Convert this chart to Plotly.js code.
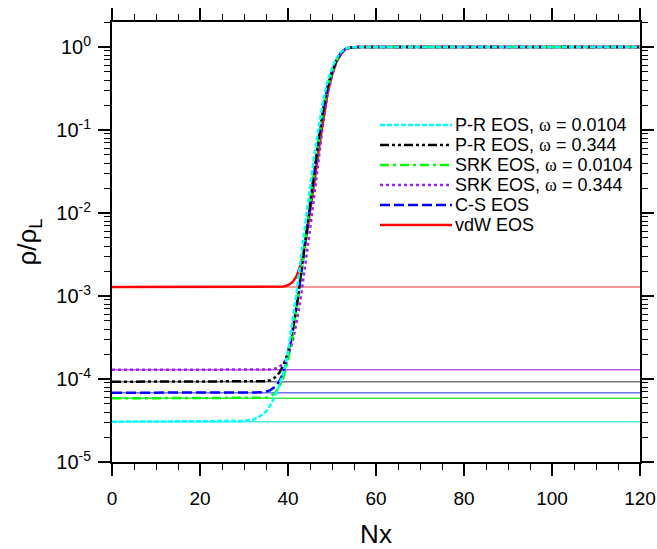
<!DOCTYPE html>
<html><head><meta charset="utf-8">
<script src="https://cdn.plot.ly/plotly-3.0.1.min.js"></script>
<style>html,body{margin:0;padding:0;background:#fff}#chart{width:657px;height:549px}</style>
</head><body><div id="chart"></div>
<script>
// ---- data ----
const nx = [0, 20, 30, 32, 33, 34, 35, 36, 37, 38, 39, 40, 41, 42, 43, 44, 45, 46, 47, 48, 49, 50, 51, 52, 53, 54, 55, 56, 58, 60, 80, 100, 120];

const prEos0104 = [3.06e-5, 3.06e-5, 3.12e-5, 3.25e-5, 3.4e-5, 3.65e-5, 4.05e-5, 4.85e-5, 6.1e-5, 8.4e-5,
  1.2e-4, 2.1e-4, 4.6e-4, 1.15e-3, 3.1e-3, 8.2e-3, 0.021, 0.05, 0.11, 0.225,
  0.39, 0.56, 0.73, 0.865, 0.95, 0.985, 0.996, 0.999, 1, 1, 1, 1, 1];
const prEos344 = [9.27e-5, 9.27e-5, 9.27e-5, 9.27e-5, 9.28e-5, 9.3e-5, 9.4e-5, 9.7e-5, 1.04e-4, 1.18e-4,
  1.47e-4, 2.1e-4, 3.75e-4, 7.8e-4, 1.87e-3, 4.8e-3, 0.0126, 0.033, 0.08, 0.175,
  0.33, 0.5, 0.69, 0.845, 0.945, 0.982, 0.994, 0.998, 1, 1, 1, 1, 1];
const srkEos0104 = [5.85e-5, 5.85e-5, 5.85e-5, 5.85e-5, 5.86e-5, 5.87e-5, 5.95e-5, 6.2e-5, 6.7e-5, 7.9e-5,
  1.06e-4, 1.7e-4, 3.3e-4, 7.5e-4, 1.84e-3, 4.75e-3, 0.0125, 0.033, 0.08, 0.175,
  0.33, 0.5, 0.69, 0.845, 0.945, 0.982, 0.994, 0.998, 1, 1, 1, 1, 1];
const srkEos344 = [1.29e-4, 1.29e-4, 1.29e-4, 1.29e-4, 1.29e-4, 1.29e-4, 1.295e-4, 1.3e-4, 1.33e-4, 1.4e-4,
  1.55e-4, 1.9e-4, 2.75e-4, 4.9e-4, 1.03e-3, 2.45e-3, 6.3e-3, 0.0166, 0.048, 0.125,
  0.27, 0.45, 0.66, 0.82, 0.935, 0.98, 0.993, 0.998, 1, 1, 1, 1, 1];
const csEos = [6.83e-5, 6.83e-5, 6.84e-5, 6.85e-5, 6.86e-5, 6.9e-5, 7.05e-5, 7.35e-5, 8.0e-5, 9.3e-5,
  1.2e-4, 1.85e-4, 3.45e-4, 7.6e-4, 1.85e-3, 4.8e-3, 0.0126, 0.033, 0.08, 0.175,
  0.33, 0.5, 0.69, 0.845, 0.945, 0.982, 0.994, 0.998, 1, 1, 1, 1, 1];
const vdwEos = [1.28e-3, 1.28e-3, 1.28e-3, 1.28e-3, 1.28e-3, 1.28e-3, 1.28e-3, 1.28e-3, 1.28e-3, 1.28e-3,
  1.3e-3, 1.35e-3, 1.46e-3, 1.75e-3, 2.5e-3, 4.5e-3, 9.8e-3, 0.024, 0.059, 0.135,
  0.28, 0.46, 0.66, 0.82, 0.935, 0.98, 0.994, 0.998, 1, 1, 1, 1, 1];

// vapour-density reference levels (thin horizontal lines)
const vapourLevels = [3.06e-5, 9.27e-5, 5.85e-5, 1.29e-4, 6.83e-5, 1.28e-3];
const levelSpan = [0, 120];

const seriesNames = ['P-R EOS, <span style="font-family:\'Liberation Serif\',serif">ω</span> = 0.0104',
  'P-R EOS, <span style="font-family:\'Liberation Serif\',serif">ω</span> = 0.344',
  'SRK EOS, <span style="font-family:\'Liberation Serif\',serif">ω</span> = 0.0104',
  'SRK EOS, <span style="font-family:\'Liberation Serif\',serif">ω</span> = 0.344',
  'C-S EOS', 'vdW EOS'];
const seriesValues = [prEos0104, prEos344, srkEos0104, srkEos344, csEos, vdwEos];

const xTickVals = [0, 20, 40, 60, 80, 100, 120];
const yTickVals = [1, 0.1, 0.01, 0.001, 1e-4, 1e-5];
const yTickText = ['10<sup>0</sup>', '10<sup>-1</sup>', '10<sup>-2</sup>', '10<sup>-3</sup>', '10<sup>-4</sup>', '10<sup>-5</sup>'];

// ---- styles ----
const colors = ['#00ffff', '#000000', '#00ff00', '#a020f0', '#0000ff', '#ff0000'];
const thinColors = ['rgba(0,230,230,0.75)', 'rgba(0,0,0,0.55)', 'rgba(0,230,0,0.75)', 'rgba(160,32,240,0.75)', 'rgba(0,0,255,0.55)', 'rgba(255,0,0,0.55)'];
const dashes = ['5px,2px', '9px,3px,3px,3px,3px,3px', '9px,4px,3px,4px', '3px,3px', '10px,4px', 'solid'];
const drawOrder = [5, 4, 3, 2, 1, 0];

const traces = [];
vapourLevels.forEach((lv, i) => {
  traces.push({x: levelSpan, y: [lv, lv], mode: 'lines', showlegend: false, hoverinfo: 'skip',
    line: {color: thinColors[i], width: 1.5}});
});
drawOrder.forEach(i => {
  traces.push({x: nx, y: seriesValues[i], mode: 'lines', name: seriesNames[i], showlegend: false,
    line: {color: colors[i], width: 2.5, dash: dashes[i]}});
});

// minor log ticks 2..9 per decade
const yMinor = [];
for (let k = -5; k <= 0; k++) for (let m = 2; m <= 9; m++) { const v = m * Math.pow(10, k); if (v <= 2.0001) yMinor.push(v); }

const M = {l: 112, r: 17, t: 22, b: 87};
const W = 657, H = 549;
const pw = W - M.l - M.r, ph = H - M.t - M.b;
const px2x = p => (p - M.l) / pw;
const py2y = p => (H - M.b - p) / ph;

// manual legend (NCL-style)
const legLineStart = 380, legLineEnd = 452, legTextStart = 453, legTop = 125, legStep = 20;
const shapes = [], annotations = [];
seriesNames.forEach((nm, i) => {
  const yy = py2y(legTop + i * legStep);
  shapes.push({type: 'line', xref: 'paper', yref: 'paper', x0: px2x(legLineStart), x1: px2x(legLineEnd), y0: yy, y1: yy,
    line: {color: colors[i], width: 2.5, dash: dashes[i]}});
  annotations.push({xref: 'paper', yref: 'paper', x: px2x(legTextStart), y: yy, xanchor: 'left', yanchor: 'middle',
    text: nm, showarrow: false, font: {size: 18, color: '#000'}});
});

const fontFam = 'Liberation Sans, Arial, Helvetica, sans-serif';
const layout = {
  width: W, height: H, margin: M, paper_bgcolor: '#fff', plot_bgcolor: '#fff',
  font: {family: fontFam, color: '#000', size: 19},
  showlegend: false,
  xaxis: {range: [0, 120], tickmode: 'array', tickvals: xTickVals, ticks: 'outside', ticklen: 12, tickwidth: 1.5,
    tickcolor: '#000', showline: true, linewidth: 2, linecolor: '#000', mirror: 'allticks', showgrid: false, zeroline: false,
    minor: {dtick: 5, tick0: 0, ticks: 'outside', ticklen: 6, tickwidth: 1, tickcolor: '#000', showgrid: false},
    tickfont: {size: 19}, ticklabelstandoff: 6,
    title: {text: 'Nx', font: {size: 26}, standoff: 19}},
  yaxis: {type: 'log', range: [-5, Math.log10(2)], tickmode: 'array', tickvals: yTickVals, ticktext: yTickText,
    ticks: 'outside', ticklen: 12, tickwidth: 1.5, tickcolor: '#000', showline: true, linewidth: 2, linecolor: '#000',
    mirror: 'allticks', showgrid: false, zeroline: false,
    minor: {tickmode: 'array', tickvals: yMinor, ticks: 'outside', ticklen: 6, tickwidth: 1, tickcolor: '#000', showgrid: false},
    tickfont: {size: 20}, ticklabelstandoff: 3,
    title: {text: 'ρ/ρ<sub>L</sub>', font: {size: 26}, standoff: 12}},
  shapes: shapes, annotations: annotations
};

Plotly.newPlot('chart', traces, layout, {displayModeBar: false, staticPlot: true});
</script>
</body></html>
